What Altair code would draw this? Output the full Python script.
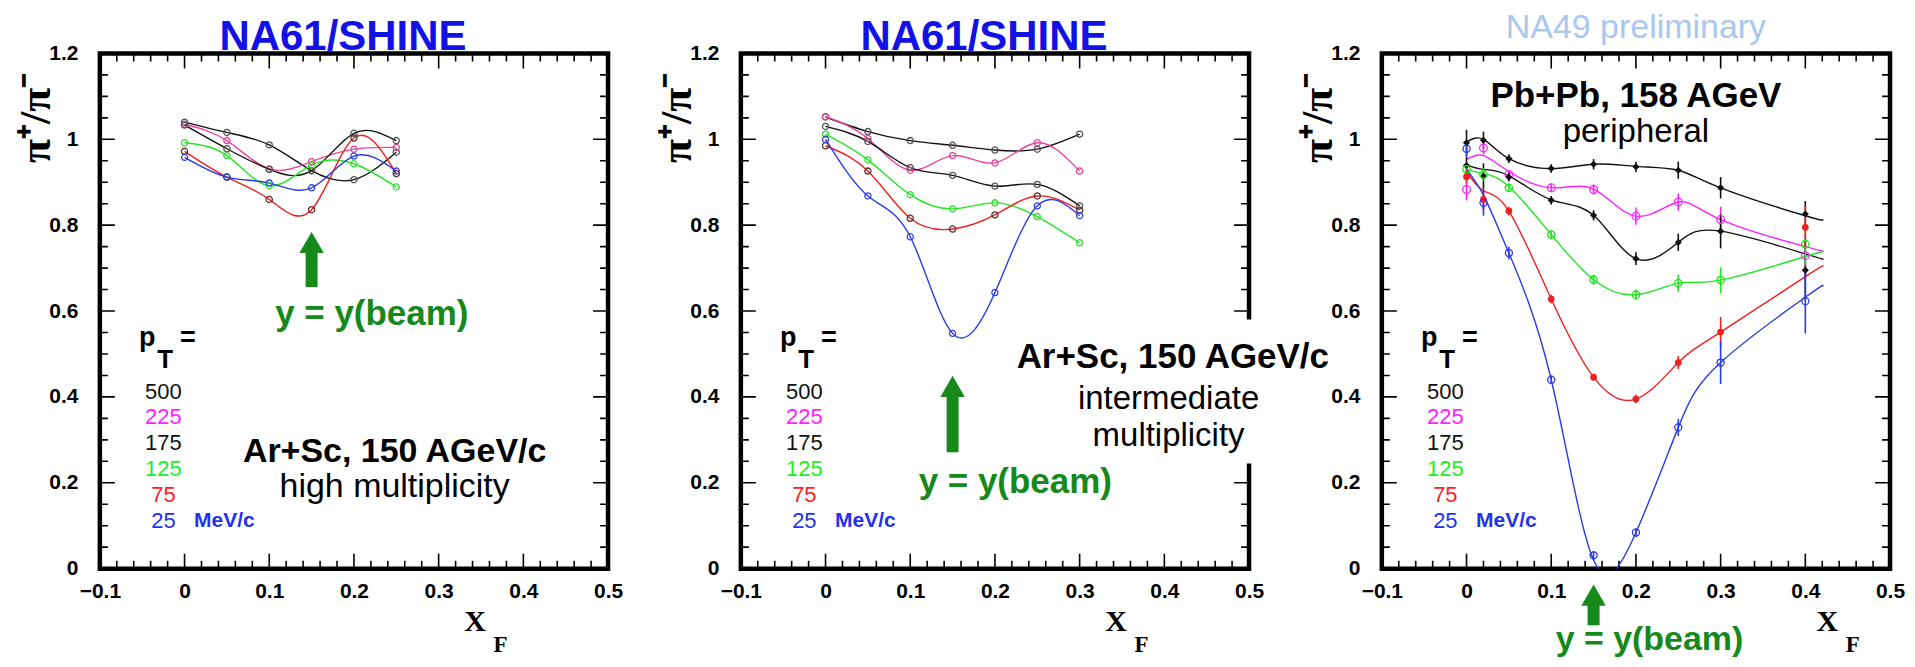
import altair as alt
import pandas as pd

# ---------------- series definitions ----------------
SERIES = ["500", "225", "175", "125", "75", "25"]
LEGEND_TEXT = ["500", "225", "175", "125", "75", "25"]
LEGEND_COLORS = ["#111111", "#ff22ff", "#111111", "#22ee22", "#ff2020", "#2233ee"]
NA61_LINE_COLORS = ["#111111", "#f0449a", "#111111", "#22e622", "#ee2020", "#2a3ae8"]
NA61_MARK_COLORS = ["#555555", "#e8449a", "#555555", "#33dd33", "#5a3030", "#3344dd"]
NA49_LINE_COLORS = ["#111111", "#ff22ff", "#111111", "#22e622", "#ee2020", "#2a3ae8"]
NA49_MARK_SHAPES = ["diamond", "circle", "diamond", "circle", "circle", "circle"]
NA49_MARK_FILLS = ["#111111", "transparent", "#111111", "transparent", "#ee2020", "transparent"]
NA49_MARK_SIZES = [28, 60, 28, 55, 30, 50]

# ---------------- panel 1: Ar+Sc, high multiplicity ----------------
P1_XF = [0.0, 0.05, 0.10, 0.15, 0.20, 0.25]
P1_500 = [1.040, 1.016, 0.987, 0.927, 0.906, 0.970]
P1_225 = [1.035, 0.997, 0.931, 0.948, 0.977, 0.981]
P1_175 = [1.033, 0.978, 0.930, 0.927, 1.014, 0.997]
P1_125 = [0.992, 0.962, 0.892, 0.940, 0.943, 0.889]
P1_75 = [0.972, 0.912, 0.860, 0.836, 1.003, 0.920]
P1_25 = [0.958, 0.912, 0.898, 0.887, 0.961, 0.926]

# ---------------- panel 2: Ar+Sc, intermediate multiplicity ----------------
P2_XF = [0.0, 0.05, 0.10, 0.15, 0.20, 0.25, 0.30]
P2_500 = [1.052, 1.018, 0.997, 0.986, 0.975, 0.977, 1.012]
P2_225 = [1.053, 1.002, 0.928, 0.962, 0.945, 0.992, 0.926]
P2_175 = [1.030, 0.995, 0.934, 0.916, 0.891, 0.895, 0.845]
P2_125 = [1.012, 0.952, 0.871, 0.838, 0.852, 0.820, 0.759]
P2_75 = [0.985, 0.926, 0.816, 0.791, 0.824, 0.868, 0.835]
P2_25 = [1.000, 0.868, 0.773, 0.548, 0.643, 0.845, 0.822]

# ---------------- panel 3: Pb+Pb peripheral (NA49) ----------------
P3_XF = [0.0, 0.02, 0.05, 0.10, 0.15, 0.20, 0.25, 0.30, 0.40]
P3_500 = [0.992, 0.998, 0.955, 0.932, 0.942, 0.936, 0.928, 0.887, 0.826]
P3_225 = [0.883, 0.980, 0.918, 0.887, 0.883, 0.821, 0.854, 0.813, 0.729]
P3_175 = [0.939, 0.914, 0.912, 0.858, 0.823, 0.722, 0.760, 0.786, 0.695]
P3_125 = [0.930, 0.918, 0.887, 0.778, 0.673, 0.638, 0.665, 0.672, 0.756]
P3_75 = [0.913, 0.860, 0.833, 0.628, 0.446, 0.395, 0.480, 0.551, 0.795]
P3_25 = [0.978, 0.852, 0.735, 0.440, 0.031, 0.084, 0.329, 0.480, 0.623]
P3_E500 = [0.030, 0.020, 0.010, 0.010, 0.012, 0.012, 0.020, 0.025, 0.030]
P3_E225 = [0.025, 0.015, 0.010, 0.010, 0.012, 0.020, 0.020, 0.030, 0.050]
P3_E175 = [0.020, 0.030, 0.010, 0.010, 0.012, 0.015, 0.020, 0.040, 0.070]
P3_E125 = [0.015, 0.015, 0.010, 0.010, 0.012, 0.012, 0.020, 0.030, 0.050]
P3_E75 = [0.015, 0.025, 0.010, 0.010, 0.008, 0.010, 0.015, 0.035, 0.050]
P3_E25 = [0.020, 0.030, 0.015, 0.010, 0.010, 0.010, 0.020, 0.050, 0.075]
# smooth curves drawn through the NA49 points
P3C_XF = [0.0, 0.02, 0.05, 0.10, 0.15, 0.20, 0.25, 0.30, 0.40, 0.42]
P3C_500 = [0.994, 1.000, 0.955, 0.932, 0.942, 0.937, 0.928, 0.887, 0.822, 0.814]
P3C_225 = [0.953, 0.962, 0.925, 0.887, 0.884, 0.821, 0.854, 0.813, 0.750, 0.740]
P3C_175 = [0.940, 0.930, 0.915, 0.859, 0.823, 0.722, 0.760, 0.786, 0.733, 0.722]
P3C_125 = [0.930, 0.920, 0.890, 0.778, 0.673, 0.638, 0.665, 0.672, 0.727, 0.737]
P3C_75 = [0.925, 0.880, 0.833, 0.628, 0.446, 0.395, 0.480, 0.551, 0.680, 0.703]
P3C_25 = [0.930, 0.870, 0.735, 0.440, 0.020, 0.084, 0.329, 0.480, 0.632, 0.658]

# ---------------- axes ----------------
X_MAJOR = [-0.1, 0.0, 0.1, 0.2, 0.3, 0.4, 0.5]
X_MINOR = [round(-0.1 + 0.02 * i, 2) for i in range(31) if i % 5 != 0]
Y_MAJOR = [0.0, 0.2, 0.4, 0.6, 0.8, 1.0, 1.2]
Y_MINOR = [round(0.05 * i, 2) for i in range(25) if i % 4 != 0]

W, H = 509, 516
MAJ_LEN, MIN_LEN = 15, 8
SANS = "Liberation Sans"
SERIF = "Liberation Serif"
GREEN = "#15891a"
NA61_BLUE = "#1212e6"
NA49_BLUE = "#a8c8f0"

X_SCALE = alt.Scale(domain=[-0.1, 0.5], nice=False, zero=False)
Y_SCALE = alt.Scale(domain=[0.0, 1.2], nice=False, zero=False)
X_AXIS = alt.Axis(values=X_MAJOR, format="~g", ticks=False, domain=False, grid=False,
                  labelFont=SANS, labelFontSize=21, labelFontWeight="bold", labelColor="black",
                  labelPadding=12, labelBaseline="top", labelFlush=False, labelOverlap=False, title=None)
Y_AXIS = alt.Axis(values=Y_MAJOR, format="~g", ticks=False, domain=False, grid=False,
                  labelFont=SANS, labelFontSize=21, labelFontWeight="bold", labelColor="black",
                  labelPadding=22, labelFlush=False, labelOverlap=False,
                  title="π⁺/π⁻", titleFont=SERIF, titleFontSize=44, titleFontWeight="bold",
                  titleColor="black", titleAngle=270, titleX=-50, titleY=64,
                  titleAlign="center", titleBaseline="alphabetic")


def xe(field="x"):
    return alt.X(f"{field}:Q", scale=X_SCALE, axis=X_AXIS)


def ye(field="y"):
    return alt.Y(f"{field}:Q", scale=Y_SCALE, axis=Y_AXIS)


def long_frame(xs, columns, colors, mcolors=None, errors=None):
    rows = []
    for i, (s, ys) in enumerate(zip(SERIES, columns)):
        for j, (x, y) in enumerate(zip(xs, ys)):
            r = {"s": s, "x": x, "y": y, "c": colors[i]}
            if mcolors is not None:
                r["mc"] = mcolors[i]
            if errors is not None:
                r["lo"] = y - errors[i][j]
                r["hi"] = y + errors[i][j]
                r["sh"] = NA49_MARK_SHAPES[i]
                r["fl"] = NA49_MARK_FILLS[i]
                r["sz"] = NA49_MARK_SIZES[i]
            rows.append(r)
    return pd.DataFrame(rows)


def frame_ticks():
    xt = pd.DataFrame({"x": X_MAJOR + X_MINOR,
                       "len": [2 * MAJ_LEN] * len(X_MAJOR) + [2 * MIN_LEN] * len(X_MINOR)})
    yt = pd.DataFrame({"y": Y_MAJOR + Y_MINOR,
                       "len": [2 * MAJ_LEN] * len(Y_MAJOR) + [2 * MIN_LEN] * len(Y_MINOR)})
    layers = []
    for yv in (0, H):
        layers.append(alt.Chart(xt).mark_tick(orient="vertical", thickness=1.6, clip=True,
                                              color="black", opacity=1).encode(
            x=xe(), y=alt.value(yv), size=alt.Size("len:Q", scale=None)))
    for xv in (0, W):
        layers.append(alt.Chart(yt).mark_tick(orient="horizontal", thickness=1.6, clip=True,
                                              color="black", opacity=1).encode(
            y=ye(), x=alt.value(xv), size=alt.Size("len:Q", scale=None)))
    return layers


def text(xs, ys, texts, size, weight="normal", color="black", font=SANS,
         align="center", baseline="alphabetic"):
    df = pd.DataFrame({"x": xs, "y": ys, "t": texts})
    return alt.Chart(df).mark_text(font=font, fontSize=size, fontWeight=weight, color=color,
                                   align=align, baseline=baseline).encode(
        x=xe(), y=ye(), text="t:N")


def legend_layers():
    ys = [0.412 - 0.06 * i for i in range(len(LEGEND_TEXT))]
    df = pd.DataFrame({"x": [-0.025] * len(LEGEND_TEXT), "y": ys,
                       "t": LEGEND_TEXT, "c": LEGEND_COLORS})
    nums = alt.Chart(df).mark_text(font=SANS, fontSize=22, align="center", baseline="middle").encode(
        x=xe(), y=ye(), text="t:N", color=alt.Color("c:N", scale=None))
    return [
        nums,
        text([0.047], [ys[-1]], ["MeV/c"], 21, "bold", LEGEND_COLORS[-1], baseline="middle"),
        text([-0.044], [0.518], ["p"], 27, "bold"),
        text([-0.023], [0.468], ["T"], 26, "bold"),
        text([0.004], [0.518], ["="], 27, "bold"),
    ]


def arrow(xv, tip, base, bottom, color=GREEN, size=600):
    shaft = pd.DataFrame({"x": [xv], "y": [bottom], "y2": [base + 0.01]})
    head_center = tip - (tip - base) * 0.667
    head = pd.DataFrame({"x": [xv], "y": [head_center]})
    return [
        alt.Chart(shaft).mark_rule(strokeWidth=12, color=color).encode(
            x=xe(), y=ye(), y2=alt.Y2("y2:Q")),
        alt.Chart(head).mark_point(shape="triangle-up", filled=True, size=size, color=color,
                                   opacity=1).encode(x=xe(), y=ye()),
    ]


def xf_title(xv, yv):
    return [text([xv], [yv], ["X"], 30, "bold", font=SERIF, align="center"),
            text([xv + 0.03], [yv - 0.05], ["F"], 23, "bold", font=SERIF, align="center")]


def na61_curves(xs, cols):
    df = long_frame(xs, cols, NA61_LINE_COLORS, NA61_MARK_COLORS)
    line = alt.Chart(df).mark_line(interpolate="natural", strokeWidth=1.4).encode(
        x=xe(), y=ye(), color=alt.Color("c:N", scale=None), detail="s:N")
    pts = alt.Chart(df).mark_point(shape="circle", filled=False, size=38, strokeWidth=1.3,
                                   opacity=1).encode(
        x=xe(), y=ye(), color=alt.Color("mc:N", scale=None), detail="s:N")
    return [line, pts]


# ---------------- panel 1 ----------------
p1_layers = frame_ticks()
p1_layers += na61_curves(P1_XF, [P1_500, P1_225, P1_175, P1_125, P1_75, P1_25])
p1_layers += legend_layers()
p1_layers += arrow(0.15, 0.793, 0.743, 0.656)
p1_layers += [
    text([0.221], [0.568], ["y = y(beam)"], 35, "bold", GREEN),
    text([0.248], [0.248], ["Ar+Sc, 150 AGeV/c"], 34, "bold"),
    text([0.248], [0.168], ["high multiplicity"], 34),
    text([0.187], [1.209], ["NA61/SHINE"], 42, "bold", NA61_BLUE),
]
p1_layers += xf_title(0.343, -0.145)
panel1 = alt.layer(*p1_layers).properties(width=W, height=H)

# ---------------- panel 2 ----------------
p2_layers = frame_ticks()
p2_layers.append(alt.Chart(pd.DataFrame({"x": [0.195], "x2": [0.6], "y": [0.245], "y2": [0.58]}))
                 .mark_rect(fill="white", strokeWidth=0).encode(
                     x=xe(), x2=alt.X2("x2:Q"), y=ye(), y2=alt.Y2("y2:Q")))
p2_layers += na61_curves(P2_XF, [P2_500, P2_225, P2_175, P2_125, P2_75, P2_25])
p2_layers += legend_layers()
p2_layers += arrow(0.15, 0.461, 0.406, 0.271)
p2_layers += [
    text([0.224], [0.175], ["y = y(beam)"], 35, "bold", GREEN),
    text([0.41], [0.468], ["Ar+Sc, 150 AGeV/c"], 35, "bold"),
    text([0.405], [0.372], ["intermediate"], 33),
    text([0.405], [0.286], ["multiplicity"], 33),
    text([0.187], [1.209], ["NA61/SHINE"], 42, "bold", NA61_BLUE),
]
p2_layers += xf_title(0.343, -0.145)
panel2 = alt.layer(*p2_layers).properties(width=W, height=H)

# ---------------- panel 3 ----------------
p3_layers = frame_ticks()
curve_df = long_frame(P3C_XF, [P3C_500, P3C_225, P3C_175, P3C_125, P3C_75, P3C_25], NA49_LINE_COLORS)
pts_df = long_frame(P3_XF, [P3_500, P3_225, P3_175, P3_125, P3_75, P3_25], NA49_LINE_COLORS,
                    errors=[P3_E500, P3_E225, P3_E175, P3_E125, P3_E75, P3_E25])
p3_layers += [
    alt.Chart(curve_df).mark_line(interpolate="natural", strokeWidth=1.4, clip=True).encode(
        x=xe(), y=ye(), color=alt.Color("c:N", scale=None), detail="s:N"),
    alt.Chart(pts_df).mark_rule(strokeWidth=1.6).encode(
        x=xe(), y=ye("lo"), y2=alt.Y2("hi:Q"), color=alt.Color("c:N", scale=None)),
    alt.Chart(pts_df).mark_point(filled=True, strokeWidth=1.3, opacity=1).encode(
        x=xe(), y=ye(), stroke=alt.Stroke("c:N", scale=None), fill=alt.Fill("fl:N", scale=None),
        shape=alt.Shape("sh:N", scale=None), size=alt.Size("sz:Q", scale=None)),
]
p3_layers += legend_layers()
p3_layers += arrow(0.15, -0.025, -0.08, -0.132)
p3_layers += [
    text([0.216], [-0.19], ["y = y(beam)"], 34, "bold", GREEN),
    text([0.20], [1.076], ["Pb+Pb, 158 AGeV"], 35, "bold"),
    text([0.20], [0.993], ["peripheral"], 33),
    text([0.20], [1.235], ["NA49 preliminary"], 34, "normal", NA49_BLUE),
]
p3_layers += xf_title(0.426, -0.145)
panel3 = alt.layer(*p3_layers).properties(width=W, height=H)

chart = (alt.hconcat(panel1, panel2, panel3, spacing=133, bounds="flush")
         .properties(padding={"left": 4, "top": 0, "right": 0, "bottom": 0})
         .configure_view(stroke="black", strokeWidth=4.5))

chart.save("out.html", embed_options={"renderer": "svg", "actions": False})
